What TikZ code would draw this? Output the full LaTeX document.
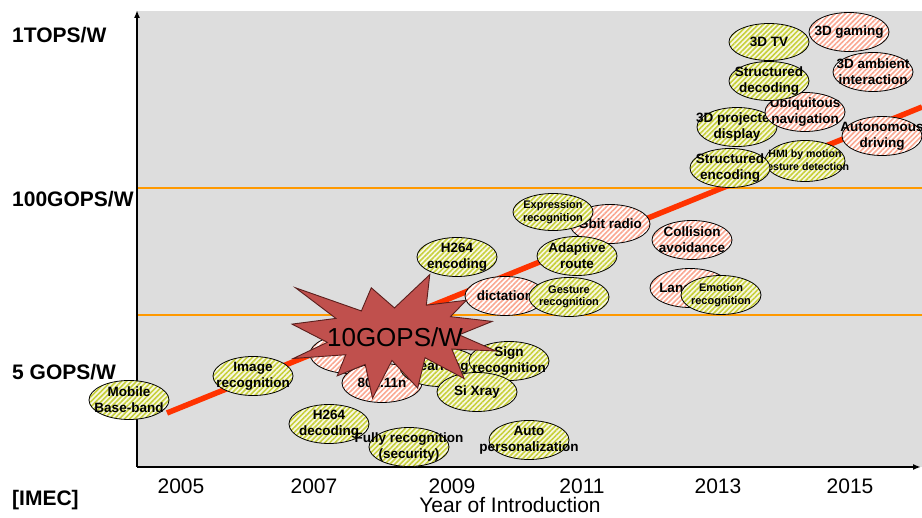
\documentclass[tikz,border=0pt]{standalone}
\usepackage{fontspec}
\setmainfont{Liberation Sans}
\usetikzlibrary{shapes.geometric,patterns.meta,arrows.meta}

\definecolor{panel}{RGB}{221,221,221}
\definecolor{levelline}{RGB}{255,153,0}
\definecolor{trend}{RGB}{255,51,0}
\definecolor{limestripe}{RGB}{200,208,60}
\definecolor{limeground}{RGB}{248,248,228}
\definecolor{salmonstripe}{RGB}{250,168,146}
\definecolor{burst}{RGB}{192,80,77}
\definecolor{burstedge}{RGB}{90,30,28}

\tikzset{
  blob/.style={ellipse, draw=black, line width=0.8pt,
    minimum width=80pt, minimum height=39pt, inner sep=0pt},
  limeblob/.style={blob, preaction={fill=limeground},
    pattern={Lines[angle=45,distance=3.6pt,line width=1.6pt]},
    pattern color=limestripe},
  salmonblob/.style={blob, preaction={fill=white},
    pattern={Lines[angle=45,distance=3.6pt,line width=1.6pt]},
    pattern color=salmonstripe},
  lbl/.style={font=\bfseries\fontsize{13.5}{16}\selectfont, align=center,
    text=black, inner sep=0pt},
  smalllbl/.style={font=\bfseries\fontsize{11}{12.5}\selectfont, align=center,
    text=black, inner sep=0pt},
  levellbl/.style={font=\bfseries\fontsize{21}{24}\selectfont, anchor=base west,
    inner sep=0pt},
  yearlbl/.style={font=\fontsize{21}{24}\selectfont, inner sep=0pt},
  axis/.style={line width=2pt, -{Latex[length=8pt,width=6pt]}},
}

\begin{document}
\begin{tikzpicture}[x=1pt,y=-1pt]
\useasboundingbox (0,0) rectangle (922,518);

% chart area and axes
\fill[panel] (137,11) rectangle (922,467);
\coordinate (origin) at (137,467);
\coordinate (ytip) at (137,10);
\coordinate (xtip) at (921,467);

% performance levels
\coordinate (hiL) at (137,188);  \coordinate (hiR) at (922,188);
\coordinate (loL) at (137,315);  \coordinate (loR) at (922,315);
\draw[levelline, line width=2pt] (hiL) -- (hiR);
\draw[levelline, line width=2pt] (loL) -- (loR);

% trend line
\coordinate (trendA) at (167,413);
\coordinate (trendB) at (922,107);
\draw[trend, line width=5.5pt] (trendA) -- (trendB);

\draw[axis] (origin) -- (ytip);
\draw[axis] (origin) -- (xtip);

% axis labels
\node[levellbl] (l1) at (12,43) {1TOPS/W};
\node[levellbl] (l2) at (12,207) {100GOPS/W};
\node[levellbl] (l3) at (12,380) {5 GOPS/W};
\node[levellbl] (l4) at (12,506) {[IMEC]};

\foreach \yr/\xx in {2005/181,2007/314,2009/452,2011/582,2013/718,2015/850}
  \node[yearlbl] (y\yr) at (\xx,486) {\yr};
\node[yearlbl] (xtitle) at (510,505) {Year of Introduction};

% applications, back to front
\node[limeblob, label={[lbl]center:{Mobile\\Base-band}}] (mobile) at (129,400) {};
\node[limeblob, label={[lbl]center:{Image\\recognition}}] (image) at (253,376) {};
\node[limeblob, label={[lbl]center:{H264\\decoding}}] (h264dec) at (329,424) {};
\node[limeblob, label={[lbl]center:{Fully recognition\\(security)}}] (fully) at (409,447) {};
\node[limeblob, label={[lbl]center:{Auto\\personalization}}] (auto) at (529,440) {};

\node[salmonblob] (hidden) at (350,354) {};
\node[salmonblob, label={[lbl]center:{802.11n}}] (wifi) at (382,383) {};
\node[limeblob, label={[lbl]center:{Learning}}] (learning) at (440,367) {};
\node[limeblob, label={[lbl]center:{Sign\\recognition}}] (sign) at (509,361) {};
\node[limeblob, label={[lbl]center:{Si Xray}}] (xray) at (477,392) {};

\node[limeblob, label={[lbl]center:{H264\\encoding}}] (h264enc) at (457,257) {};
\node[salmonblob, label={[lbl]center:{dictation}}] (dictation) at (505,296) {};
\node[limeblob, label={[smalllbl]center:{Gesture\\recognition}}] (gesture) at (569,297) {};
\node[salmonblob, label={[lbl]center:{Gbit radio}}] (gbit) at (610,224) {};
\node[limeblob, minimum height=37pt, label={[smalllbl]center:{Expression\\recognition}}] (expression) at (553,212) {};
\node[limeblob, label={[lbl]center:{Adaptive\\route}}] (adaptive) at (577,256) {};

\node[salmonblob, label={[lbl]center:{Collision\\avoidance}}] (collision) at (692,240) {};
\node[salmonblob, label={[lbl,xshift=-15pt]center:{Lane}}] (lane) at (690,288) {};
\node[limeblob, label={[smalllbl]center:{Emotion\\recognition}}] (emotion) at (721,295) {};

\node[limeblob, label={[lbl]center:{3D projected\\display}}] (projected) at (737,127) {};
\node[salmonblob, label={[lbl]center:{Ubiquitous\\navigation}}] (ubiq) at (805,112) {};
\node[limeblob, minimum height=41pt,
  label={[font=\bfseries\fontsize{10.6}{13}\selectfont, align=center, inner sep=0pt]center:{HMI by motion\\gesture detection}}] (hmi) at (805,161) {};
\node[limeblob, label={[lbl]center:{Structured\\encoding}}] (structenc) at (730,168) {};
\node[limeblob, label={[lbl]center:{Structured\\decoding}}] (structdec) at (769,81) {};
\node[limeblob, minimum height=37pt, label={[lbl]center:{3D TV}}] (tv) at (769,42) {};
\node[salmonblob, label={[lbl]center:{3D gaming}}] (gaming) at (849,32) {};
\node[salmonblob, label={[lbl]center:{3D ambient\\interaction}}] (ambient) at (873,72) {};
\node[salmonblob, label={[lbl]center:{Autonomous\\driving}}] (autonomous) at (882,136) {};

% explosion marker
\begin{scope}[shift={(291,274)}, xscale=0.94907, yscale=0.575]
\filldraw[fill=burst, draw=burstedge, line width=0.9pt, line join=miter]
  (109.01,59.05) -- (84.58,23.99) -- (74.17,64.25) -- (4.76,23.99) --
  (47.32,77.22) -- (1.06,87.18) -- (38.28,118.80) -- (2.43,146.89) --
  (57.72,140.41) -- (48.68,177.19) -- (78.19,157.30) -- (85.90,216.00) --
  (106.37,150.38) -- (133.49,198.40) -- (141.25,145.61) -- (182.48,181.95) --
  (169.38,130.44) -- (216.00,133.93) -- (177.10,105.79) -- (211.98,82.42) --
  (168.06,74.17) -- (184.82,45.60) -- (142.57,54.29) -- (146.23,1.06) -- cycle;
\end{scope}
\node[font=\fontsize{26}{30}\selectfont, inner sep=0pt] (burstlbl) at (395,337) {10GOPS/W};

\end{tikzpicture}
\end{document}
